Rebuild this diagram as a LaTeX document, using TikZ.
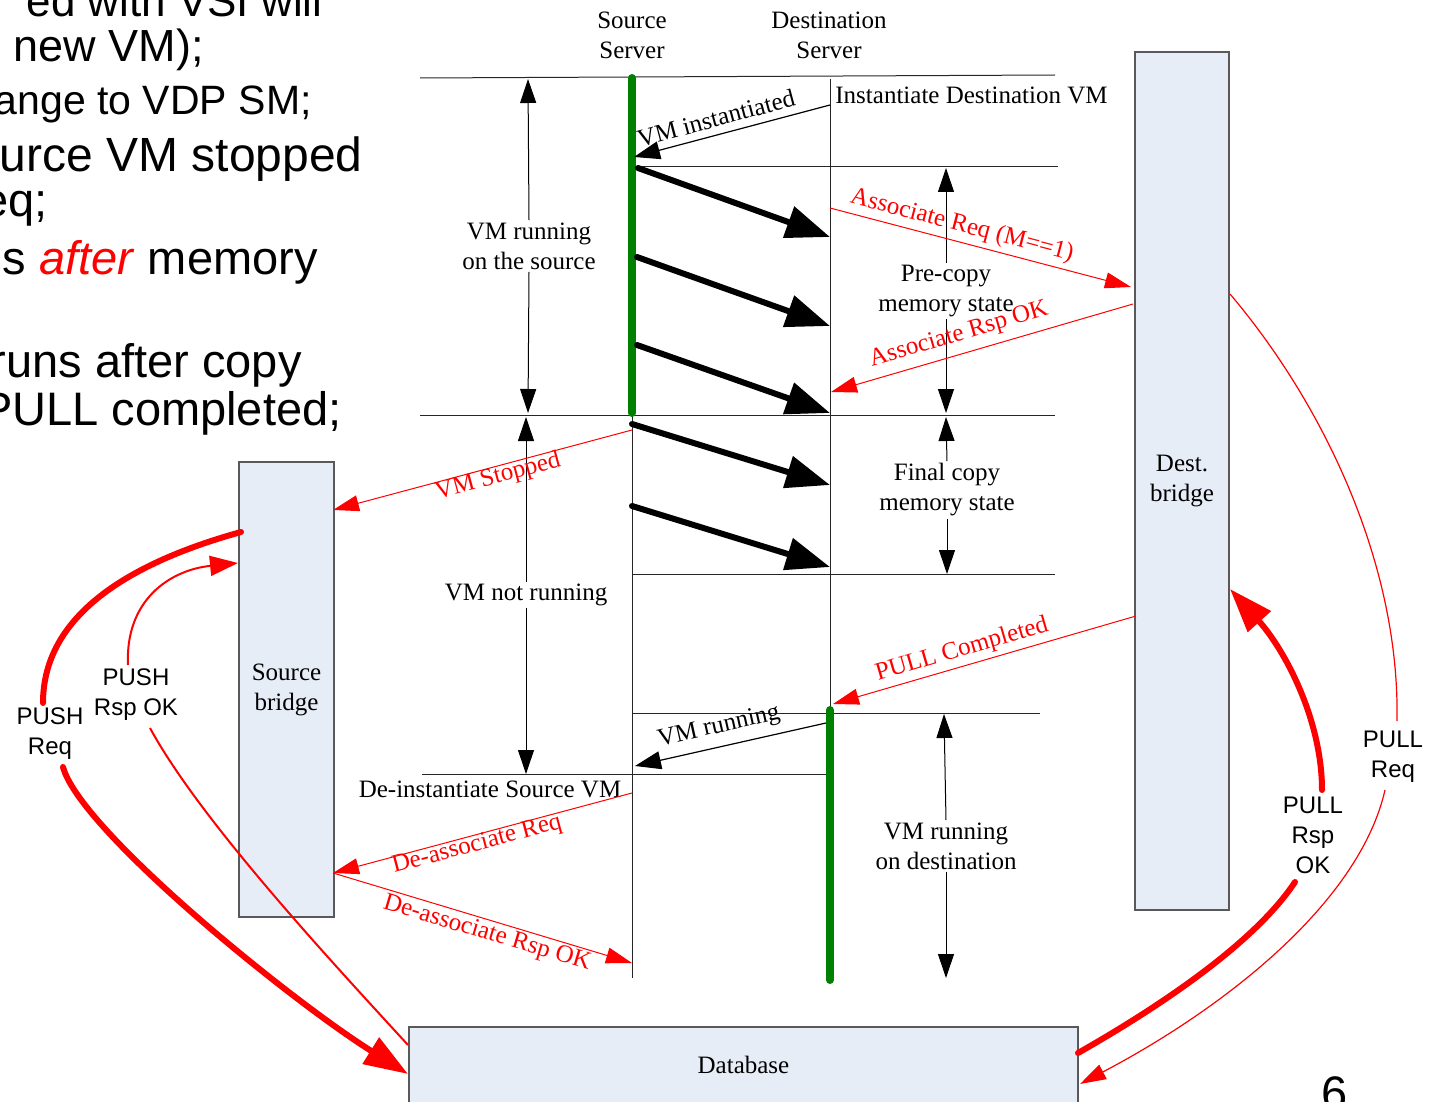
\documentclass[tikz,border=0pt]{standalone}
\usepackage{fontspec}
\setmainfont{Liberation Serif}
\newfontfamily\arialf{Liberation Sans}
\usetikzlibrary{arrows.meta}
\definecolor{bfill}{HTML}{E6EDF7}
\definecolor{vmgreen}{HTML}{008000}
\definecolor{myred}{HTML}{FF0000}
\begin{document}
\begin{tikzpicture}[x=0.5pt,y=-0.5pt,
  lbl/.style={font=\fontsize{12.5}{15}\selectfont, align=center, inner sep=1pt},
  sans/.style={font=\arialf\fontsize{12}{15}\selectfont, align=center, inner sep=1pt},
  big/.style={font=\arialf\fontsize{23.5}{28}\selectfont, anchor=base east, inner sep=0pt},
  box/.style={draw=black!65, fill=bfill, line width=0.6pt},
  life/.style={line width=0.5pt, black!85},
  thinarr/.style={line width=0.6pt, -{Triangle[length=13pt,width=9pt]}},
  uparr/.style={line width=0.5pt, -{Triangle[length=12pt,width=8pt]}},
  bigarr/.style={line width=3pt, line cap=round, -{Triangle[length=22pt,width=16pt]}},
  redmsg/.style={myred, line width=0.5pt, -{Triangle[length=13pt,width=8pt]}},
  redlbl/.style={lbl, text=myred},
  redthick/.style={myred, line width=3pt, line cap=round},
  redthin/.style={myred, line width=0.6pt},
  greenbar/.style={vmgreen, line width=4pt, line cap=round},
]
\useasboundingbox (0,0) rectangle (1437,1102);
\clip (0,0) rectangle (1437,1102);

% left slide text (cut off)
\node[big, font=\arialf\fontsize{22}{26}\selectfont] (t1) at (323,17) {ed with VSI will};
\node[big, font=\arialf\fontsize{22.5}{26}\selectfont] (t2) at (204,62) {new VM);};
\node[big, font=\arialf\fontsize{20.5}{24}\selectfont] (t3) at (312,115) {ange to VDP SM;};
\node[big, font=\arialf\fontsize{24}{28}\selectfont] (t4) at (363,172) {ource VM stopped};
\node[big] (t5) at (48,217) {Req;};
\node[big] (t6) at (318,275) {s \textcolor{myred}{\textit{after}} memory};
\node[big] (t7) at (302,378) {runs after copy};
\node[big] (t8) at (342,425) {PULL completed;};
\node[big, anchor=base] (pg) at (1335,1109) {6};

% boxes
\node[box, lbl, minimum width=47.5pt, minimum height=227.5pt] (srcb) at (286.5,689.5) {Source\\bridge};
\node[box, lbl, minimum width=47pt, minimum height=429pt] (dstb) at (1182,481) {Dest.\\bridge};
\node[box, lbl, minimum width=334.5pt, minimum height=38pt] (db) at (743.5,1065) {Database};

% headers
\node[lbl] (hsrc) at (632,35) {Source\\Server};
\node[lbl] (hdst) at (829,35) {Destination\\Server};
\node[lbl, anchor=west] (inst) at (833,95) {Instantiate Destination VM};
\node[lbl, anchor=base] (deinst) at (490,797) {De-instantiate Source VM};

% lifelines
\coordinate (sTop) at (632,77); \coordinate (sBot) at (632,978);
\coordinate (dTop) at (830,79); \coordinate (dBot) at (830,978);
\draw[life] (sTop) -- (sBot);
\draw[life] (dTop) -- (dBot);

% horizontal lines
\coordinate (h1a) at (420,78);  \coordinate (h1b) at (1055,75);
\coordinate (h2a) at (636,167); \coordinate (h2b) at (1058,167);
\coordinate (h3a) at (420,415); \coordinate (h3b) at (1055,415);
\coordinate (h4a) at (632,574); \coordinate (h4b) at (1055,574);
\coordinate (h5a) at (632,713); \coordinate (h5b) at (1040,713);
\coordinate (h6a) at (422,774); \coordinate (h6b) at (830,774);
\foreach \a/\b in {h1a/h1b,h2a/h2b,h3a/h3b,h4a/h4b,h5a/h5b,h6a/h6b}
  \draw[life] (\a) -- (\b);

% green bars
\coordinate (g1a) at (632,78); \coordinate (g1b) at (632,413);
\coordinate (g2a) at (830,710); \coordinate (g2b) at (830,980);
\draw[greenbar] (g1a) -- (g1b);
\draw[greenbar] (g2a) -- (g2b);

% VM instantiated
\coordinate (vi0) at (830,105); \coordinate (vi1) at (634,157);
\draw[thinarr] (vi0) -- (vi1);
\node[lbl, rotate=15] (lvi) at (716,118) {VM instantiated};

% memory copy arrows
\coordinate (m1a) at (638,168); \coordinate (m1b) at (830,237);
\coordinate (m2a) at (637,257); \coordinate (m2b) at (830,326);
\coordinate (m3a) at (637,345); \coordinate (m3b) at (830,413);
\coordinate (m4a) at (632,424); \coordinate (m4b) at (830,485);
\coordinate (m5a) at (632,506); \coordinate (m5b) at (830,567);
\foreach \a/\b in {m1a/m1b,m2a/m2b,m3a/m3b,m4a/m4b,m5a/m5b}
  \draw[bigarr] (\a) -- (\b);

% left interval arrows
\node[lbl] (vmsrc) at (529,246) {VM running\\on the source};
\coordinate (v1t) at (528,79); \coordinate (v1b) at (528,413);
\draw[uparr] (vmsrc.north) -- (v1t);
\draw[uparr] (vmsrc.south) -- (v1b);
\node[lbl] (vmnot) at (526,595) {VM not running};
\coordinate (v2t) at (526,417); \coordinate (v2b) at (526,774);
\draw[uparr] (vmnot.north) -- (v2t);
\draw[uparr] (vmnot.south) -- (v2b);

% right interval arrows
\node[lbl] (pre) at (946,291) {Pre-copy\\memory state};
\coordinate (p1t) at (946,168); \coordinate (p1b) at (946,413);
\draw[uparr] (pre.north) -- (p1t);
\draw[uparr] (pre.south) -- (p1b);
\node[lbl] (fin) at (947,490) {Final copy\\memory state};
\coordinate (p2t) at (946,417); \coordinate (p2b) at (947,574);
\draw[uparr] (fin.north) -- (p2t);
\draw[uparr] (fin.south) -- (p2b);
\node[lbl] (vmdst) at (946,846) {VM running\\on destination};
\coordinate (p3t) at (944,714); \coordinate (p3b) at (946,978);
\draw[uparr] (vmdst.north) -- (p3t);
\draw[uparr] (vmdst.south) -- (p3b);

% red messages
\coordinate (ar0) at (830,208); \coordinate (ar1) at (1131,287);
\draw[redmsg] (ar0) -- (ar1);
\node[redlbl, rotate=-14.7] (lar) at (962,226) {Associate Req (M==1)};
\coordinate (as0) at (1133,304); \coordinate (as1) at (831,392);
\draw[redmsg] (as0) -- (as1);
\node[redlbl, rotate=16.2] (las) at (959,335) {Associate Rsp OK};
\coordinate (vs0) at (632,430); \coordinate (vs1) at (333,510);
\draw[redmsg] (vs0) -- (vs1);
\node[redlbl, rotate=15] (lvs) at (498,477) {VM Stopped};
\coordinate (pc0) at (1136,616); \coordinate (pc1) at (833,704);
\draw[redmsg] (pc0) -- (pc1);
\node[redlbl, rotate=16.2] (lpc) at (962,650) {PULL Completed};
\coordinate (dr0) at (632,793); \coordinate (dr1) at (333,873);
\draw[redmsg] (dr0) -- (dr1);
\node[redlbl, rotate=15] (ldr) at (477,845) {De-associate Req};
\coordinate (dp1) at (632,963);
\draw[redmsg] (dr1) -- (dp1);
\node[redlbl, rotate=-16.6] (ldp) at (487,934) {De-associate Rsp OK};

% VM running (black)
\coordinate (vr0) at (826,723); \coordinate (vr1) at (635,766);
\draw[thinarr] (vr0) -- (vr1);
\node[lbl, rotate=12.7] (lvr) at (719,727) {VM running};

% PUSH Req
\node[sans] (lpush) at (50,734) {PUSH\\Req};
\coordinate (pq0) at (241,532); \coordinate (pq1) at (43,703);
\coordinate (pq2) at (63,767);  \coordinate (pq3) at (408,1074);
\draw[redthick] (pq0) .. controls (140,560) and (43,610) .. (pq1);
\draw[redthick, -{Triangle[length=22pt,width=15pt]}] (pq2) .. controls (80,830) and (290,1000) .. (pq3);

% PUSH Rsp OK
\node[sans] (lpushr) at (136,695) {PUSH\\Rsp OK};
\coordinate (ps0) at (408,1045); \coordinate (ps1) at (150,728);
\coordinate (ps2) at (128,665);  \coordinate (ps3) at (238,563);
\draw[redthin, line width=1pt] (ps0) .. controls (330,960) and (200,820) .. (ps1);
\draw[redthin, line width=1pt, -{Triangle[length=14pt,width=10pt]}] (ps2) .. controls (125,600) and (170,570) .. (ps3);

% PULL Req
\node[sans] (lpull) at (1393,757) {PULL\\Req};
\coordinate (lq0) at (1230,294); \coordinate (lq1) at (1397,721);
\coordinate (lq2) at (1385,790); \coordinate (lq3) at (1080,1084);
\draw[redthin] (lq0) .. controls (1320,400) and (1400,560) .. (lq1);
\draw[redthin, -{Triangle[length=13pt,width=8pt]}] (lq2) .. controls (1360,900) and (1230,1005) .. (lq3);

% PULL Rsp OK
\node[sans] (lpullr) at (1313,835) {PULL\\Rsp\\OK};
\coordinate (lr0) at (1322,790); \coordinate (lr1) at (1230,589);
\coordinate (lr2) at (1295,882); \coordinate (lr3) at (1078,1053);
\draw[redthick, -{Triangle[length=22pt,width=15pt]}] (lr0) .. controls (1322,720) and (1285,650) .. (lr1);
\draw[redthick] (lr2) .. controls (1260,935) and (1180,995) .. (lr3);
\end{tikzpicture}
\end{document}
